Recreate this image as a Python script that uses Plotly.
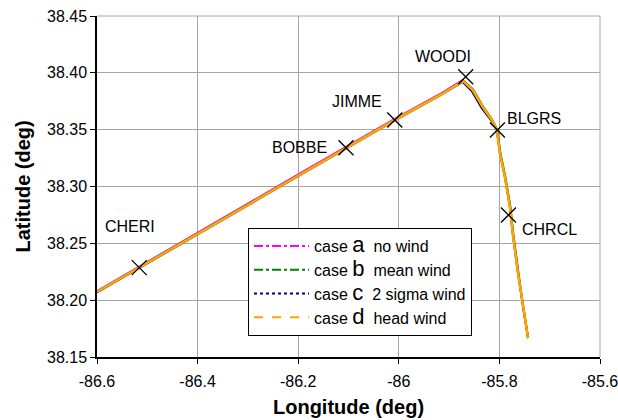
import plotly.graph_objects as go

# ---------------- data ----------------
wp_names = ["CHERI", "BOBBE", "JIMME", "WOODI", "BLGRS", "CHRCL"]
wp_lon = [-86.516, -86.105, -86.008, -85.867, -85.804, -85.782]
wp_lat = [38.2286, 38.3341, 38.3585, 38.3966, 38.3497, 38.2749]

lon_a = [-86.600, -86.516, -86.395, -86.200, -86.105, -86.008, -85.918, -85.873, -85.853,
         -85.833, -85.815, -85.805, -85.799, -85.789, -85.779, -85.773, -85.763, -85.753, -85.743]
lat_a = [38.2080, 38.2296, 38.2610, 38.3106, 38.3348, 38.3594, 38.3814, 38.3938, 38.3856,
         38.3703, 38.3588, 38.3497, 38.3295, 38.3082, 38.2818, 38.2572, 38.2238, 38.1940, 38.1667]

lon_b = [-86.600, -86.516, -86.395, -86.200, -86.105, -86.008, -85.918, -85.872, -85.852,
         -85.832, -85.814, -85.804, -85.798, -85.788, -85.778, -85.772, -85.762, -85.753, -85.743]
lat_b = [38.2076, 38.2291, 38.2604, 38.3101, 38.3343, 38.3589, 38.3808, 38.3930, 38.3850,
         38.3700, 38.3586, 38.3497, 38.3296, 38.3085, 38.2821, 38.2574, 38.2240, 38.1940, 38.1667]

lon_c = [-86.600, -86.516, -86.395, -86.200, -86.105, -86.008, -85.918, -85.873, -85.855,
         -85.835, -85.816, -85.805, -85.799, -85.789, -85.779, -85.773, -85.763, -85.753, -85.743]
lat_c = [38.2068, 38.2283, 38.2597, 38.3094, 38.3336, 38.3582, 38.3802, 38.3920, 38.3840,
         38.3690, 38.3580, 38.3495, 38.3294, 38.3083, 38.2819, 38.2572, 38.2238, 38.1940, 38.1667]

lon_d = [-86.600, -86.516, -86.395, -86.200, -86.105, -86.008, -85.918, -85.872, -85.853,
         -85.833, -85.815, -85.805, -85.799, -85.789, -85.779, -85.773, -85.763, -85.753, -85.743]
lat_d = [38.2072, 38.2287, 38.2600, 38.3097, 38.3339, 38.3585, 38.3805, 38.3928, 38.3849,
         38.3699, 38.3585, 38.3497, 38.3295, 38.3084, 38.2820, 38.2573, 38.2239, 38.1940, 38.1667]

case_letters = ["a", "b", "c", "d"]
case_desc = ["no wind", "mean wind", "2 sigma wind", "head wind"]

x_tickvals = [-86.6, -86.4, -86.2, -86.0, -85.8, -85.6]
x_ticktext = ["-86.6", "-86.4", "-86.2", "-86", "-85.8", "-85.6"]
y_tickvals = [38.15, 38.20, 38.25, 38.30, 38.35, 38.40, 38.45]
y_ticktext = ["38.15", "38.20", "38.25", "38.30", "38.35", "38.40", "38.45"]
x_title = "Longitude (deg)"
y_title = "Latitude (deg)"

# ---------------- styles ----------------
colors = ["#ff00ff", "#008000", "#000080", "#ffa500"]
dashes = ["dashdot", "dashdot", "dot", "dash"]
widths = [2, 2, 2, 2.6]
label_dx = [-9, -46, -38, -23, 37, 41]
label_dy = [41, 0, 19, 20, 12, -14]
FONT = "Liberation Sans, Arial, sans-serif"
GRID = "#a6a6a6"

fig = go.Figure()
tracks = [(lon_a, lat_a), (lon_b, lat_b), (lon_c, lat_c), (lon_d, lat_d)]
for i, (lo, la) in enumerate(tracks):
    fig.add_trace(go.Scatter(x=lo, y=la, mode="lines", showlegend=False,
                             line=dict(color=colors[i], width=widths[i])))

for i in range(4):
    name = ("case <span style='font-size:22px'>" + case_letters[i] +
            "</span>&#160;&#160;" + case_desc[i])
    fig.add_trace(go.Scatter(x=[None], y=[None], mode="lines", name=name,
                             line=dict(color=colors[i], width=2, dash=dashes[i])))

fig.add_trace(go.Scatter(x=wp_lon, y=wp_lat, mode="markers", showlegend=False,
                         cliponaxis=False,
                         marker=dict(symbol="x-thin", size=15, color="black",
                                     line=dict(width=1.3, color="black"))))

for i, n in enumerate(wp_names):
    fig.add_annotation(x=wp_lon[i], y=wp_lat[i], text=n, showarrow=False,
                       xshift=label_dx[i], yshift=label_dy[i],
                       font=dict(family=FONT, size=16, color="black"))

# axis titles
fig.add_annotation(xref="paper", yref="paper", x=0.5, y=0, yanchor="middle",
                   yshift=-50, text=x_title, showarrow=False,
                   font=dict(family=FONT, size=20, color="black", weight="bold"))
fig.add_annotation(xref="paper", yref="paper", x=0, y=0.5, xanchor="center",
                   xshift=-75, textangle=-90, text=y_title, showarrow=False,
                   font=dict(family=FONT, size=20, color="black", weight="bold"))

# grid lines along the top and right edges of the plot area
fig.add_shape(type="line", xref="x domain", yref="y domain", x0=1, x1=1, y0=0, y1=1,
              line=dict(color=GRID, width=1), layer="below")
fig.add_shape(type="line", xref="x domain", yref="y domain", x0=0, x1=1, y0=1, y1=1,
              line=dict(color=GRID, width=1), layer="below")

fig.update_layout(
    width=618, height=420,
    margin=dict(l=97, r=18, t=16, b=63),
    plot_bgcolor="white", paper_bgcolor="white",
    font=dict(family=FONT, size=16, color="black"),
    legend=dict(x=0.3002, y=0.3783, xanchor="left", yanchor="top",
                bordercolor="black", borderwidth=1, bgcolor="white",
                font=dict(family=FONT, size=16, color="black"),
                itemwidth=55, traceorder="normal"),
)
fig.update_xaxes(range=[-86.6, -85.6], tickvals=x_tickvals, ticktext=x_ticktext,
                 automargin=False, ticklabeloverflow="allow", ticklabelstandoff=4,
                 showline=True, linecolor="black", linewidth=1.5,
                 ticks="outside", ticklen=5, tickcolor="black", tickwidth=1,
                 showgrid=True, gridcolor=GRID, gridwidth=1, zeroline=False,
                 tickfont=dict(family=FONT, size=16, color="black"))
fig.update_yaxes(range=[38.15, 38.45], tickvals=y_tickvals, ticktext=y_ticktext,
                 automargin=False, ticklabeloverflow="allow",
                 showline=True, linecolor="black", linewidth=1.5,
                 ticks="outside", ticklen=5, tickcolor="black", tickwidth=1,
                 showgrid=True, gridcolor=GRID, gridwidth=1, zeroline=False,
                 tickfont=dict(family=FONT, size=16, color="black"))

fig.write_html("out.html")
